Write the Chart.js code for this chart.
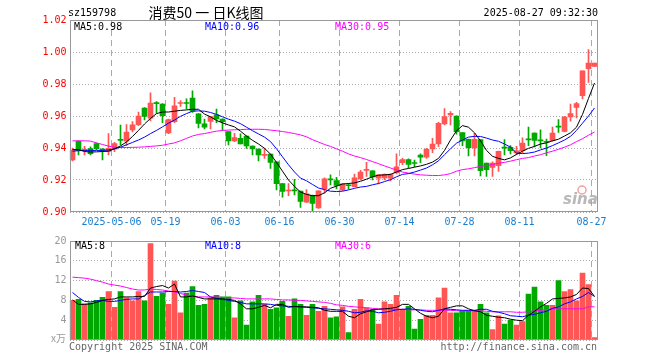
<!DOCTYPE html>
<html>
<head>
<meta charset="utf-8">
<script src="https://cdn.jsdelivr.net/npm/chart.js@4.4.1/dist/chart.umd.min.js"></script>
<style>
  html, body { margin: 0; padding: 0; background: #fff; }
  #wrap { position: relative; width: 660px; height: 360px; }
  #chart_k { position: absolute; left: 0; top: 0; }
  #chart_vol { position: absolute; left: 0; top: 232px; }
</style>
</head>
<body>
<div id="wrap">
  <canvas id="chart_k" width="660" height="232"></canvas>
  <canvas id="chart_vol" width="660" height="128"></canvas>
</div>
<script>
// dias de negociacion
const fechas = [
  '2025-04-22','2025-04-23','2025-04-24','2025-04-25','2025-04-28','2025-04-29','2025-04-30',
  '2025-05-06','2025-05-07','2025-05-08','2025-05-09','2025-05-12','2025-05-13','2025-05-14','2025-05-15','2025-05-16',
  '2025-05-19','2025-05-20','2025-05-21','2025-05-22','2025-05-23','2025-05-26','2025-05-27','2025-05-28','2025-05-29','2025-05-30',
  '2025-06-03','2025-06-04','2025-06-05','2025-06-06','2025-06-09','2025-06-10','2025-06-11','2025-06-12','2025-06-13',
  '2025-06-16','2025-06-17','2025-06-18','2025-06-19','2025-06-20','2025-06-23','2025-06-24','2025-06-25','2025-06-26','2025-06-27',
  '2025-06-30','2025-07-01','2025-07-02','2025-07-03','2025-07-04','2025-07-07','2025-07-08','2025-07-09','2025-07-10','2025-07-11',
  '2025-07-14','2025-07-15','2025-07-16','2025-07-17','2025-07-18','2025-07-21','2025-07-22','2025-07-23','2025-07-24','2025-07-25',
  '2025-07-28','2025-07-29','2025-07-30','2025-07-31','2025-08-01','2025-08-04','2025-08-05','2025-08-06','2025-08-07','2025-08-08',
  '2025-08-11','2025-08-12','2025-08-13','2025-08-14','2025-08-15','2025-08-18','2025-08-19','2025-08-20','2025-08-21','2025-08-22',
  '2025-08-25','2025-08-26','2025-08-27'
]
const ticks_x = ['2025-05-06','2025-05-19','2025-06-03','2025-06-16','2025-06-30','2025-07-14','2025-07-28','2025-08-11','2025-08-27']
const ticks_x_text = ['2025-05-06','05-19','06-03','06-16','06-30','07-14','07-28','08-11','08-27']

const apertura = [
  .9325,.9442,.9386,.9396,.9428,.9394,.9378,.9392,.9452,.9442,
  .9513,.9546,.9650,.9586,.9681,.9675,.9494,.9565,.9678,.9681,
  .9712,.9613,.9551,.9566,.9607,.9581,.9502,.9444,.9460,.9475,
  .9412,.9394,.9354,.9362,.9313,.9177,.9131,.9134,.9130,.9061,
  .9104,.9026,.9144,.9203,.9197,.9138,.9166,.9159,.9209,.9260,
  .9258,.9212,.9213,.9212,.9246,.9309,.9328,.9305,.9356,.9342,
  .9394,.9425,.9550,.9606,.9600,.9496,.9454,.9400,.9452,.9305,
  .9279,.9290,.9402,.9404,.9369,.9383,.9453,.9494,.9447,.9438,
  .9446,.9532,.9504,.9594,.9654,.9727,.9896,.9910
]
const maximo = [
  .9400,.9445,.9410,.9408,.9430,.9396,.9490,.9435,.9544,.9546,
  .9565,.9625,.9652,.9745,.9690,.9677,.9580,.9717,.9696,.9708,
  .9757,.9615,.9580,.9598,.9643,.9582,.9503,.9492,.9488,.9476,
  .9413,.9395,.9398,.9363,.9314,.9178,.9177,.9204,.9131,.9140,
  .9105,.9132,.9213,.9232,.9217,.9177,.9177,.9237,.9260,.9310,
  .9259,.9233,.9238,.9238,.9364,.9335,.9332,.9325,.9363,.9398,
  .9460,.9560,.9646,.9627,.9601,.9497,.9455,.9492,.9453,.9306,
  .9313,.9380,.9452,.9415,.9410,.9463,.9531,.9495,.9513,.9456,
  .9531,.9577,.9598,.9675,.9685,.9883,1.0015,.9931
]
const minimo = [
  .9320,.9356,.9356,.9356,.9390,.9325,.9356,.9377,.9419,.9415,
  .9500,.9540,.9576,.9570,.9617,.9558,.9490,.9558,.9660,.9645,
  .9622,.9526,.9520,.9520,.9559,.9512,.9419,.9440,.9425,.9398,
  .9356,.9319,.9335,.9273,.9138,.9093,.9102,.9106,.9029,.9060,
  .9009,.9022,.9118,.9170,.9144,.9133,.9142,.9156,.9200,.9222,
  .9201,.9175,.9200,.9195,.9238,.9296,.9275,.9283,.9308,.9335,
  .9371,.9408,.9544,.9544,.9487,.9415,.9350,.9350,.9225,.9223,
  .9223,.9254,.9356,.9363,.9358,.9369,.9415,.9406,.9400,.9352,
  .9442,.9498,.9500,.9567,.9588,.9706,.9810,.9910
]
const cierre = [
  .9385,.9383,.9390,.9365,.9396,.9385,.9398,.9428,.9448,.9500,
  .9545,.9600,.9597,.9680,.9677,.9602,.9577,.9663,.9681,.9678,
  .9630,.9553,.9530,.9597,.9582,.9565,.9444,.9465,.9425,.9413,
  .9394,.9356,.9357,.9310,.9177,.9128,.9133,.9132,.9066,.9113,
  .9053,.9132,.9208,.9201,.9166,.9176,.9164,.9214,.9249,.9262,
  .9220,.9233,.9236,.9234,.9282,.9328,.9297,.9303,.9342,.9392,
  .9425,.9554,.9596,.9617,.9502,.9444,.9402,.9454,.9258,.9265,
  .9306,.9379,.9399,.9383,.9383,.9431,.9451,.9448,.9445,.9436,
  .9494,.9530,.9594,.9615,.9677,.9883,.9931,.9931
]
const ma5 = [
  .9390,.9390,.9378,.9375,.9376,.9378,.9380,.9395,.9413,.9438,
  .9472,.9510,.9550,.9585,.9615,.9625,.9625,.9630,.9635,.9638,
  .9642,.9642,.9612,.9595,.9572,.9557,.9544,.9532,.9505,.9475,
  .9448,.9425,.9398,.9362,.9310,.9255,.9200,.9160,.9125,.9110,
  .9102,.9102,.9120,.9148,.9162,.9175,.9178,.9182,.9192,.9205,
  .9220,.9230,.9232,.9235,.9250,.9265,.9272,.9280,.9288,.9298,
  .9312,.9335,.9385,.9450,.9508,.9540,.9530,.9495,.9445,.9385,
  .9348,.9335,.9326,.9338,.9360,.9380,.9398,.9410,.9425,.9432,
  .9445,.9455,.9475,.9495,.9530,.9610,.9710,.9806
]
const ma10 = [
  .9380,.9383,.9385,.9385,.9385,.9385,.9388,.9395,.9405,.9420,
  .9435,.9450,.9468,.9490,.9510,.9532,.9555,.9575,.9598,.9615,
  .9630,.9632,.9630,.9622,.9610,.9595,.9580,.9568,.9552,.9530,
  .9508,.9488,.9468,.9440,.9395,.9345,.9295,.9250,.9212,.9195,
  .9172,.9150,.9140,.9130,.9128,.9130,.9138,.9148,.9156,.9160,
  .9170,.9178,.9190,.9202,.9220,.9235,.9240,.9250,.9262,.9275,
  .9295,.9320,.9358,.9395,.9430,.9450,.9468,.9473,.9472,.9462,
  .9450,.9442,.9425,.9405,.9368,.9365,.9368,.9375,.9388,.9400,
  .9415,.9432,.9450,.9473,.9510,.9555,.9600,.9650
]
const ma30 = [
  .9445,.9445,.9445,.9443,.9432,.9422,.9412,.9404,.9403,.9403,
  .9404,.9405,.9407,.9410,.9413,.9417,.9425,.9432,.9445,.9460,
  .9475,.9485,.9490,.9498,.9505,.9510,.9512,.9514,.9515,.9517,
  .9517,.9517,.9516,.9512,.9508,.9503,.9497,.9490,.9482,.9470,
  .9452,.9437,.9422,.9410,.9395,.9380,.9363,.9350,.9340,.9328,
  .9315,.9302,.9288,.9275,.9262,.9250,.9243,.9237,.9232,.9230,
  .9228,.9228,.9232,.9240,.9255,.9265,.9270,.9277,.9285,.9290,
  .9297,.9305,.9310,.9318,.9327,.9335,.9340,.9350,.9358,.9370,
  .9380,.9392,.9405,.9420,.9440,.9458,.9480,.9500
]

// volumen en 10k
const volumen = [
  8.0,8.2,7.3,7.5,8.0,8.6,9.8,6.6,9.8,8.5,
  7.9,9.8,7.9,19.5,8.8,9.5,7.2,11.9,5.5,9.5,
  10.8,7.0,7.2,8.5,9.0,8.7,8.7,4.5,7.9,3.0,
  7.7,9.0,7.2,6.2,6.5,7.8,4.8,8.3,7.2,5.0,
  7.2,5.8,6.8,4.5,4.7,6.7,1.5,6.2,8.2,6.5,
  6.2,3.2,7.7,7.2,9.0,6.2,6.8,2.2,4.2,5.0,
  5.0,8.5,10.5,5.5,5.5,5.8,5.8,6.0,7.2,5.5,
  2.1,4.9,3.2,4.0,3.0,3.7,9.3,10.7,7.7,7.0,
  7.0,12.0,9.8,10.2,7.9,13.5,11.2,0.5
]
const ma5_vol = [
  8.1,7.2,7.2,7.3,7.6,8.0,8.2,8.3,8.7,8.7,
  8.7,8.8,8.8,10.5,10.8,11.0,10.5,11.3,8.7,8.7,
  8.9,8.6,8.3,8.3,8.3,8.3,8.2,8.0,7.3,6.3,
  6.3,6.6,7.0,6.5,7.2,7.2,6.6,6.8,6.7,6.7,
  6.6,6.5,6.0,5.8,5.8,5.8,4.8,4.5,5.3,5.7,
  6.1,6.2,6.3,6.4,6.6,7.2,7.2,6.3,5.4,4.8,
  4.5,4.8,6.3,6.6,6.9,6.9,6.3,5.9,5.7,5.0,
  4.8,4.6,4.5,4.2,4.0,3.9,5.0,5.8,6.7,7.4,
  8.3,8.4,8.5,8.7,9.2,10.5,10.4,8.8
]
const ma10_vol = [
  9.6,8.6,7.8,7.7,7.9,8.0,7.8,7.8,8.0,8.2,
  8.3,8.3,9.0,9.7,9.7,9.7,9.8,9.8,9.7,9.8,
  10.0,9.8,9.6,8.7,8.4,8.2,8.0,7.8,7.6,7.3,
  7.3,7.3,7.3,7.2,7.0,6.9,6.8,6.7,6.7,6.6,
  6.5,6.4,6.3,6.2,6.1,6.0,5.8,5.5,5.6,5.9,
  5.8,5.5,5.6,5.8,6.1,6.2,6.3,6.2,6.0,5.8,
  5.7,6.0,6.3,6.2,6.1,6.0,6.0,6.0,6.2,6.2,
  5.8,5.6,5.3,4.9,4.8,4.7,5.0,5.2,5.5,5.8,
  6.4,6.7,7.3,7.7,8.3,8.8,9.6,8.8
]
const ma30_vol = [
  12.7,12.6,12.5,12.3,12.0,11.7,11.3,11.1,10.9,10.6,
  10.3,10.1,10.1,10.3,10.2,10.1,9.9,9.7,9.4,9.1,
  8.9,8.7,8.7,8.7,8.7,8.6,8.5,8.5,8.4,8.3,
  8.3,8.3,8.3,8.3,8.2,8.1,8.1,8.0,8.0,7.9,
  7.8,7.7,7.6,7.4,7.1,7.0,6.8,6.7,6.6,6.5,
  6.4,6.3,6.3,6.2,6.2,6.2,6.1,6.1,6.1,6.0,
  6.0,6.0,6.0,6.0,5.9,5.9,5.9,5.9,5.9,5.8,
  5.7,5.7,5.7,5.7,5.6,5.6,5.7,5.9,6.0,6.1,
  6.3,6.3,6.3,6.3,6.3,6.3,6.7,6.7
]

const ROJO = '#ff5555'
const VERDE = '#00a800'
const GRIS_GRID = '#aaaaaa'
const MONO = '"DejaVu Sans Mono", monospace'

let colores = cierre.map((c, i) => c >= apertura[i] ? ROJO : VERDE)
let cuerpos = cierre.map((c, i) => [Math.min(c, apertura[i]), Math.max(c, apertura[i])])
let mechas = minimo.map((l, i) => [l, maximo[i]])

function linea_ma(data, color) {
    return {
        type: 'line',
        data: data,
        borderColor: color,
        borderWidth: 1,
        pointRadius: 0,
        tension: 0,
        order: 0,
    }
}

// eje x comun
function eje_x(con_labels) {
    return {
        grid: {
            color: (c) => ticks_x.includes(fechas[c.index]) ? GRIS_GRID : 'rgba(0,0,0,0)',
            lineWidth: 1,
            drawTicks: false,
            offset: true,
        },
        border: { display: false, dash: [6, 4] },
        ticks: {
            display: con_labels,
            autoSkip: false,
            maxRotation: 0,
            padding: 4,
            labelOffset: -3,
            color: '#1a7fd0',
            font: { family: MONO, size: 10 },
            callback: (v, i) => {
                let pos = ticks_x.indexOf(fechas[i])
                return pos >= 0 ? ticks_x_text[pos] : ''
            }
        },
        afterFit: (s) => { s.height = con_labels ? 20 : 0 }
    }
}

// marco gris alrededor del area
const marco = {
    id: 'marco',
    afterDraw(chart) {
        const { ctx, chartArea: a } = chart
        ctx.save()
        ctx.strokeStyle = '#999'
        ctx.lineWidth = 1
        let l = Math.round(a.left) + 0.5
        let r = Math.round(a.right) - 0.5
        let t = Math.round(a.top) + 0.5
        let b = Math.round(a.bottom) - 0.5
        ctx.strokeRect(l, t, r - l, b - t)
        ctx.restore()
    }
}

const textos_k = {
    id: 'textos_k',
    afterDraw(chart) {
        const ctx = chart.ctx
        ctx.save()
        ctx.textBaseline = 'middle'
        ctx.font = `10px ${MONO}`
        ctx.fillStyle = '#000'
        ctx.textAlign = 'left'
        ctx.fillText('sz159798', 68, 13)
        ctx.textAlign = 'right'
        ctx.fillText('2025-08-27 09:32:30', 598, 13)
        ctx.textAlign = 'center'
        ctx.font = '14px "Noto Sans CJK SC", sans-serif'
        ctx.fillText('消费50 一 日K线图', 206, 13)
        ctx.textAlign = 'left'
        ctx.font = `10px ${MONO}`
        ctx.fillStyle = '#000'
        ctx.fillText('MA5:0.98', 74, 27)
        ctx.fillStyle = '#0000ff'
        ctx.fillText('MA10:0.96', 205, 27)
        ctx.fillStyle = '#ff00ff'
        ctx.fillText('MA30:0.95', 335, 27)
        // marca de agua sina
        ctx.fillStyle = 'rgba(160,160,160,0.75)'
        ctx.font = 'italic bold 15px "DejaVu Sans", sans-serif'
        ctx.textBaseline = 'alphabetic'
        ctx.fillText('sina', 563, 204)
        ctx.strokeStyle = 'rgba(235,120,120,0.7)'
        ctx.lineWidth = 1.5
        ctx.beginPath()
        ctx.arc(582, 190, 4, 0, Math.PI * 2)
        ctx.stroke()
        ctx.restore()
    }
}

const textos_vol = {
    id: 'textos_vol',
    afterDraw(chart) {
        const ctx = chart.ctx
        ctx.save()
        ctx.textBaseline = 'middle'
        ctx.font = `10px ${MONO}`
        ctx.textAlign = 'left'
        ctx.fillStyle = '#000'
        ctx.fillText('MA5:8', 75, 14)
        ctx.fillStyle = '#0000ff'
        ctx.fillText('MA10:8', 205, 14)
        ctx.fillStyle = '#ff00ff'
        ctx.fillText('MA30:6', 335, 14)
        ctx.fillStyle = '#666'
        ctx.fillText('Copyright 2025 SINA.COM', 69, 115)
        ctx.textAlign = 'right'
        ctx.fillText('http://finance.sina.com.cn', 597, 115)
        ctx.fillStyle = '#999'
        ctx.font = '10px "Noto Sans CJK SC", sans-serif'
        ctx.fillText('x万', 66, 106)
        ctx.restore()
    }
}

// grafico de velas
new Chart(document.querySelector('#chart_k'), {
    type: 'bar',
    data: {
        labels: fechas,
        datasets: [
            linea_ma(ma5, '#000000'),
            linea_ma(ma10, '#0000ff'),
            linea_ma(ma30, '#ff00ff'),
            {
                data: cuerpos,
                backgroundColor: colores,
                barThickness: 5,
                minBarLength: 1,
                grouped: false,
                order: 1,
            },
            {
                data: mechas,
                backgroundColor: colores,
                barThickness: 1,
                minBarLength: 1,
                grouped: false,
                order: 2,
            },
        ]
    },
    options: {
        responsive: false,
        animation: false,
        layout: { padding: { left: 0, right: 62.5, top: 20, bottom: 0 } },
        plugins: { legend: { display: false }, tooltip: { enabled: false } },
        scales: {
            x: eje_x(true),
            y: {
                min: 0.90,
                max: 1.02,
                ticks: {
                    stepSize: 0.02,
                    padding: 3,
                    color: '#ff0000',
                    font: { family: MONO, size: 10 },
                    callback: (v) => v.toFixed(2)
                },
                grid: { color: GRIS_GRID, drawTicks: false },
                border: { display: false, dash: [1, 2] },
                afterFit: (s) => { s.width = 69.5 }
            }
        }
    },
    plugins: [marco, textos_k]
})

// grafico de volumen
new Chart(document.querySelector('#chart_vol'), {
    type: 'bar',
    data: {
        labels: fechas,
        datasets: [
            linea_ma(ma5_vol, '#000000'),
            linea_ma(ma10_vol, '#0000ff'),
            linea_ma(ma30_vol, '#ff00ff'),
            {
                data: volumen,
                backgroundColor: colores,
                barThickness: 5,
                grouped: false,
                order: 1,
            },
        ]
    },
    options: {
        responsive: false,
        animation: false,
        layout: { padding: { left: 0, right: 62.5, top: 8, bottom: 20 } },
        plugins: { legend: { display: false }, tooltip: { enabled: false } },
        scales: {
            x: eje_x(false),
            y: {
                min: 0,
                max: 20,
                ticks: {
                    stepSize: 4,
                    padding: 3,
                    color: '#999',
                    font: { family: MONO, size: 10 },
                    callback: (v) => v === 0 ? '' : v
                },
                grid: { color: GRIS_GRID, drawTicks: false },
                border: { display: false, dash: [1, 2] },
                afterFit: (s) => { s.width = 69.5 }
            }
        }
    },
    plugins: [marco, textos_vol]
})
</script>
</body>
</html>
